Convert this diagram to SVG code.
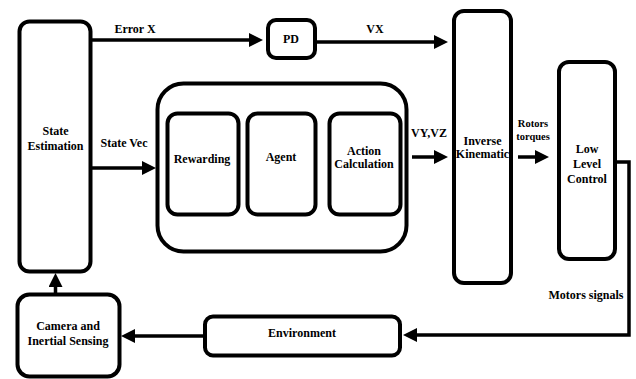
<svg xmlns="http://www.w3.org/2000/svg" width="636" height="379" viewBox="0 0 636 379">
<style>
.box{fill:#fff;stroke:#000;stroke-width:4}
.t{font-family:'Liberation Serif','DejaVu Serif',serif;font-weight:bold;font-size:12px;fill:#000;text-anchor:middle}
.s{font-size:10.5px}
.c{fill:none;stroke:#000;stroke-width:3.5}
</style>
<defs>
<marker id="ah" markerUnits="userSpaceOnUse" markerWidth="14" markerHeight="14" viewBox="0 0 14 14" refX="7" refY="7" orient="auto">
<path d="M0,0 L14,7 L0,14 z" fill="#000"/>
</marker>
</defs>
<rect width="636" height="379" fill="#fff"/>
<g id="state-estimation"><rect class="box" x="19.5" y="21.5" width="71" height="250" rx="10"/><text class="t" x="55.5" y="135">State</text><text class="t" x="55.5" y="150">Estimation</text></g>
<g id="pd"><rect class="box" x="268" y="20" width="47" height="38" rx="8"/><text class="t" x="291" y="43">PD</text></g>
<g id="rl-block"><rect class="box" x="157.5" y="83.5" width="249" height="168" rx="26"/></g>
<g id="rewarding"><rect class="box" x="167.5" y="113.5" width="71" height="101" rx="10"/><text class="t" x="202" y="163">Rewarding</text></g>
<g id="agent"><rect class="box" x="247.5" y="113.5" width="68" height="101" rx="10"/><text class="t" x="281" y="161">Agent</text></g>
<g id="action-calculation"><rect class="box" x="329.5" y="113.5" width="71" height="101" rx="10"/><text class="t" x="364" y="155">Action</text><text class="t" x="364" y="168">Calculation</text></g>
<g id="inverse-kinematic"><rect class="box" x="454" y="11" width="57" height="272" rx="10"/><text class="t" x="482.5" y="145">Inverse</text><text class="t" x="482.5" y="158">Kinematic</text></g>
<g id="low-level-control"><rect class="box" x="559" y="62" width="56" height="197" rx="10"/><text class="t" x="587" y="153">Low</text><text class="t" x="587" y="168">Level</text><text class="t" x="587" y="183">Control</text></g>
<g id="environment"><rect class="box" x="205" y="316.5" width="195" height="39" rx="8"/><text class="t" x="302" y="337">Environment</text></g>
<g id="camera"><rect class="box" x="17.5" y="294.5" width="102" height="82" rx="12"/><text class="t" x="68" y="330">Camera and</text><text class="t" x="68" y="345">Inertial Sensing</text></g>
<g id="connectors">
<line class="c" x1="92" y1="40" x2="256" y2="40" marker-end="url(#ah)"/>
<line class="c" x1="317" y1="42" x2="441" y2="42" marker-end="url(#ah)"/>
<line class="c" x1="92" y1="168" x2="149" y2="168" marker-end="url(#ah)"/>
<line class="c" x1="412" y1="157" x2="441" y2="157" marker-end="url(#ah)"/>
<line class="c" x1="518" y1="157" x2="542" y2="157" marker-end="url(#ah)"/>
<polyline class="c" points="617,162 629,162 629,335 410,335" marker-end="url(#ah)"/>
<line class="c" x1="205" y1="336" x2="128" y2="336" marker-end="url(#ah)"/>
<line class="c" x1="55.5" y1="294" x2="55.5" y2="280" marker-end="url(#ah)"/>
<text class="t" x="135" y="33">Error X</text>
<text class="t" x="375" y="33">VX</text>
<text class="t" x="124" y="147">State Vec</text>
<text class="t" x="429" y="137">VY,VZ</text>
<text class="t s" x="533" y="127">Rotors</text>
<text class="t s" x="533" y="140">torques</text>
<text class="t" x="586" y="299">Motors signals</text>
</g>
</svg>
